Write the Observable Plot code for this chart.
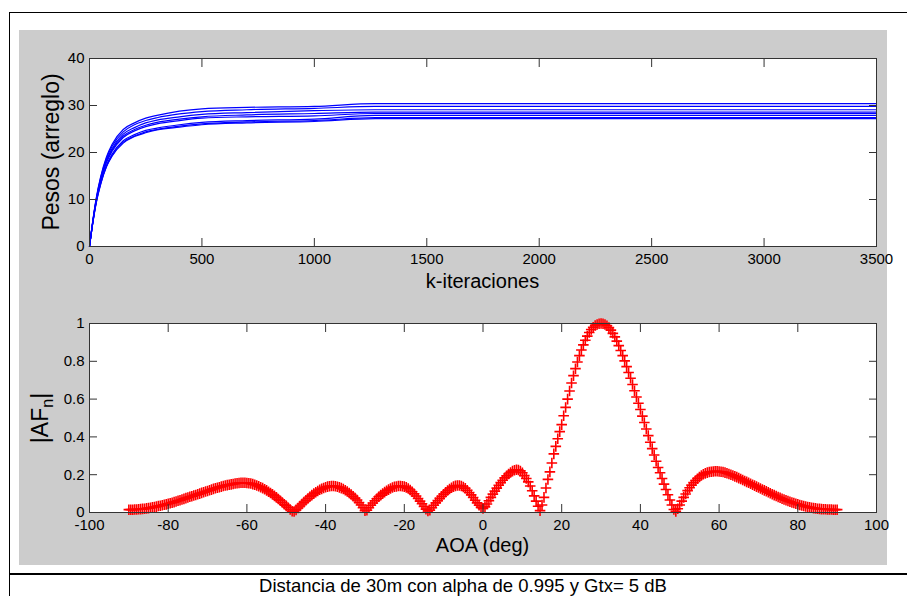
<!DOCTYPE html>
<html>
<head>
<meta charset="utf-8">
<script src="https://cdn.jsdelivr.net/npm/d3@7"></script>
<script src="https://cdn.jsdelivr.net/npm/@observablehq/plot@0.6"></script>
<style>
  body { margin: 0; background: #fff; font-family: "Liberation Sans", Arial, sans-serif; }
  #page { position: relative; width: 907px; height: 596px; overflow: hidden; background: #fff; }
  .abs { position: absolute; }
  .lbl { position: absolute; white-space: nowrap; line-height: 1; color: #000; }
  .lbl sub { font-size: 0.7em; vertical-align: -0.35em; line-height: 1; }
</style>
</head>
<body>
<div id="page">
  <div class="abs" style="left:9px;top:12px;width:898px;height:1px;background:#000"></div>
  <div class="abs" style="left:9px;top:12px;width:1px;height:584px;background:#000"></div>
  <div class="abs" style="left:9px;top:573px;width:898px;height:2px;background:#000"></div>
  <div class="abs" style="left:19px;top:30px;width:868px;height:535px;background:#cccccc"></div>
  <div id="topChart" class="abs" style="left:19px;top:30px"></div>
  <div id="bottomChart" class="abs" style="left:19px;top:300px"></div>

  <div class="lbl" style="left:482.5px;top:271px;font-size:20px;transform:translateX(-50%)">k-iteraciones</div>
  <div class="lbl" style="left:51px;top:152px;font-size:23px;transform:translate(-50%,-50%) rotate(-90deg)">Pesos (arreglo)</div>
  <div class="lbl" style="left:482.5px;top:535px;font-size:20px;transform:translateX(-50%)">AOA (deg)</div>
  <div class="lbl" style="left:42px;top:418px;font-size:23px;transform:translate(-50%,-50%) rotate(-90deg)">|AF<sub>n</sub>|</div>
  <div class="lbl" style="left:463px;top:577px;font-size:18.5px;transform:translateX(-50%)">Distancia de 30m con alpha de 0.995 y Gtx= 5 dB</div>
</div>

<script>
// ---------- Top chart data: weights vs iterations ----------
const kIter = [0, 15, 30, 50, 75, 100, 150, 200, 250, 300, 400, 500, 700, 1000, 1270, 3500];
const w1 = [0, 5.6, 10.3, 14.9, 19.0, 21.7, 24.9, 26.3, 27.3, 27.9, 28.8, 29.3, 29.6, 29.8, 30.4, 30.4];
const w2 = [0, 5.5, 10.1, 14.7, 18.7, 21.3, 24.4, 25.9, 26.8, 27.4, 28.2, 28.7, 29.1, 29.4, 29.8, 29.8];
const w3 = [0, 5.4, 10.0, 14.4, 18.3, 20.8, 23.9, 25.3, 26.3, 26.9, 27.6, 28.1, 28.5, 28.9, 29.1, 29.1];
const w4 = [0, 5.3, 9.8, 14.2, 18.0, 20.5, 23.5, 24.9, 25.8, 26.4, 27.1, 27.6, 28.0, 28.3, 28.6, 28.6];
const w5 = [0, 5.3, 9.7, 14.0, 17.8, 20.2, 23.2, 24.6, 25.5, 26.1, 26.8, 27.3, 27.6, 27.8, 28.3, 28.3];
const w6 = [0, 5.2, 9.5, 13.6, 17.2, 19.6, 22.5, 23.8, 24.7, 25.2, 25.9, 26.4, 26.8, 27.1, 27.9, 27.9];
const w7 = [0, 5.1, 9.4, 13.4, 17.0, 19.3, 22.2, 23.5, 24.4, 24.9, 25.6, 26.1, 26.5, 26.8, 27.4, 27.4];
const w8 = [0, 5.1, 9.3, 13.3, 16.9, 19.2, 22.0, 23.4, 24.2, 24.8, 25.4, 25.9, 26.3, 26.6, 27.2, 27.2];
const kTicks = [0, 500, 1000, 1500, 2000, 2500, 3000, 3500];
const wTicks = [0, 10, 20, 30, 40];

// ---------- Bottom chart data: |AF_n| vs AOA, 0.5 deg steps ----------
const aoaStep = 0.5;
// segment starting at -90 deg
const afA = [0.015,0.015,0.015,0.016,0.016,0.017,0.018,0.019,0.020,0.022,
             0.023,0.025,0.027,0.029,0.031,0.034,0.036,0.038,0.041,0.043,
             0.046,0.049,0.052,0.055,0.058,0.062,0.065,0.069,0.072,0.076,
             0.079,0.083,0.086,0.090,0.093,0.097,0.100,0.104,0.107,0.111,
             0.114,0.118,0.121,0.125,0.128,0.131,0.134,0.137,0.140,0.143,
             0.145,0.147,0.149,0.151,0.153,0.155,0.156,0.157,0.157,0.157,
             0.156,0.155,0.153,0.150,0.147,0.143,0.139,0.134,0.129,0.123,
             0.117,0.110,0.103,0.096,0.088,0.080,0.071,0.062,0.053,0.044,
             0.035,0.025,0.016,0.007];
// segment starting at -48 deg
const afB = [0.005,0.014,0.024,0.034,0.045,0.055,0.065,0.074,0.083,0.092,
             0.100,0.107,0.114,0.120,0.125,0.130,0.134,0.137,0.139,0.140,
             0.140,0.139,0.136,0.133,0.129,0.124,0.118,0.111,0.103,0.095,
             0.086,0.076,0.066,0.053,0.040,0.025,0.010];
// segment starting at -29.5 deg
const afC = [0.012,0.025,0.038,0.050,0.062,0.073,0.083,0.092,0.100,0.108,
             0.115,0.121,0.127,0.132,0.136,0.138,0.140,0.140,0.139,0.137,
             0.133,0.127,0.119,0.110,0.099,0.087,0.074,0.060,0.046,0.032,
             0.018,0.008];
// segment starting at -13.5 deg
const afD = [0.012,0.025,0.038,0.051,0.063,0.075,0.086,0.097,0.107,0.116,
             0.124,0.131,0.137,0.141,0.143,0.143,0.140,0.135,0.128,0.118,
             0.106,0.093,0.079,0.065,0.051,0.038,0.027,0.022];
// segment starting at 0.5 deg
const afE = [0.030,0.045,0.062,0.080,0.097,0.113,0.129,0.144,0.158,0.171,
             0.183,0.194,0.204,0.212,0.219,0.224,0.226,0.225,0.220,0.210,
             0.195,0.180,0.162,0.140,0.115,0.088,0.060,0.033,0.010];
// segment starting at 15 deg (main lobe)
const afF = [0.040,0.080,0.130,0.175,0.215,0.262,0.310,0.350,0.390,0.428,
             0.465,0.512,0.556,0.600,0.643,0.685,0.724,0.761,0.796,0.830,
             0.860,0.887,0.911,0.933,0.952,0.968,0.980,0.989,0.995,0.999,
             1.000,0.999,0.995,0.988,0.978,0.965,0.948,0.929,0.907,0.883,
             0.857,0.830,0.802,0.772,0.741,0.710,0.677,0.644,0.611,0.578,
             0.545,0.510,0.476,0.442,0.407,0.372,0.338,0.304,0.271,0.238,
             0.210,0.180,0.150,0.122,0.094,0.066,0.040,0.016,0.006];
// segment starting at 49.5 deg
const afG = [0.020,0.040,0.060,0.080,0.098,0.116,0.131,0.145,0.158,0.169,
             0.179,0.188,0.196,0.202,0.207,0.211,0.214,0.216,0.217,0.218,
             0.218,0.217,0.216,0.214,0.211,0.208,0.204,0.200,0.196,0.191,
             0.187,0.182,0.177,0.172,0.167,0.162,0.157,0.152,0.147,0.142,
             0.137,0.132,0.127,0.122,0.117,0.112,0.107,0.102,0.097,0.092,
             0.087,0.082,0.078,0.073,0.069,0.065,0.061,0.057,0.053,0.050,
             0.046,0.043,0.040,0.037,0.034,0.032,0.029,0.027,0.025,0.023,
             0.022,0.020,0.019,0.018,0.017,0.017,0.016,0.016,0.016,
             0.015,0.015,0.015];
const afSegments = [[-90, afA], [-48, afB], [-29.5, afC], [-13.5, afD], [0.5, afE], [15, afF], [49.5, afG]];
const aoaTicks = [-100, -80, -60, -40, -20, 0, 20, 40, 60, 80, 100];
const afTicks = [0, 0.2, 0.4, 0.6, 0.8, 1];

// ---------- Build tables ----------
const weightSeries = [w1, w2, w3, w4, w5, w6, w7, w8];
const weightRows = weightSeries.flatMap((w, s) => w.map((v, i) => ({k: kIter[i], v, s})));
const afRows = afSegments.flatMap(([start, vals]) => vals.map((v, i) => ({a: start + i * aoaStep, v})));

const fmt = d => String(d);
const baseStyle = {background: "transparent", color: "#000", fontSize: "15px", fontFamily: "Liberation Sans, Arial, sans-serif", overflow: "visible"};
const axisColor = "#333";

function axesMarks(xt, yt) {
  return [
    Plot.axisX(xt, {anchor: "bottom", tickSize: 0, tickPadding: 7, tickFormat: fmt, label: null, fontSize: 15}),
    Plot.axisX(xt, {anchor: "bottom", tickSize: -8, tickFormat: () => "", label: null, stroke: axisColor}),
    Plot.axisX(xt, {anchor: "top", tickSize: -8, tickFormat: () => "", label: null, stroke: axisColor}),
    Plot.axisY(yt, {anchor: "left", tickSize: 0, tickPadding: 5, tickFormat: fmt, label: null, fontSize: 15}),
    Plot.axisY(yt, {anchor: "left", tickSize: -8, tickFormat: () => "", label: null, stroke: axisColor}),
    Plot.axisY(yt, {anchor: "right", tickSize: -8, tickFormat: () => "", label: null, stroke: axisColor}),
    Plot.frame({stroke: axisColor, strokeWidth: 1})
  ];
}

const topPlot = Plot.plot({
  width: 868, height: 270,
  marginLeft: 70, marginRight: 11, marginTop: 28, marginBottom: 54,
  style: baseStyle,
  x: {domain: [0, 3500]},
  y: {domain: [0, 40]},
  marks: [
    Plot.frame({fill: "white", stroke: "none"}),
    Plot.line(weightRows, {x: "k", y: "v", z: "s", stroke: "#0000ff", strokeWidth: 1.2, curve: "monotone-x"}),
    ...axesMarks(kTicks, wTicks)
  ]
});
document.getElementById("topChart").appendChild(topPlot);

const bottomPlot = Plot.plot({
  width: 868, height: 265,
  marginLeft: 70, marginRight: 11, marginTop: 23, marginBottom: 53,
  style: baseStyle,
  x: {domain: [-100, 100]},
  y: {domain: [0, 1]},
  marks: [
    Plot.frame({fill: "white", stroke: "none"}),
    Plot.dot(afRows, {x: "a", y: "v", symbol: "plus", r: 3.5, stroke: "#ff0000", fill: "none", strokeWidth: 1.6}),
    ...axesMarks(aoaTicks, afTicks)
  ]
});
document.getElementById("bottomChart").appendChild(bottomPlot);
</script>
</body>
</html>
